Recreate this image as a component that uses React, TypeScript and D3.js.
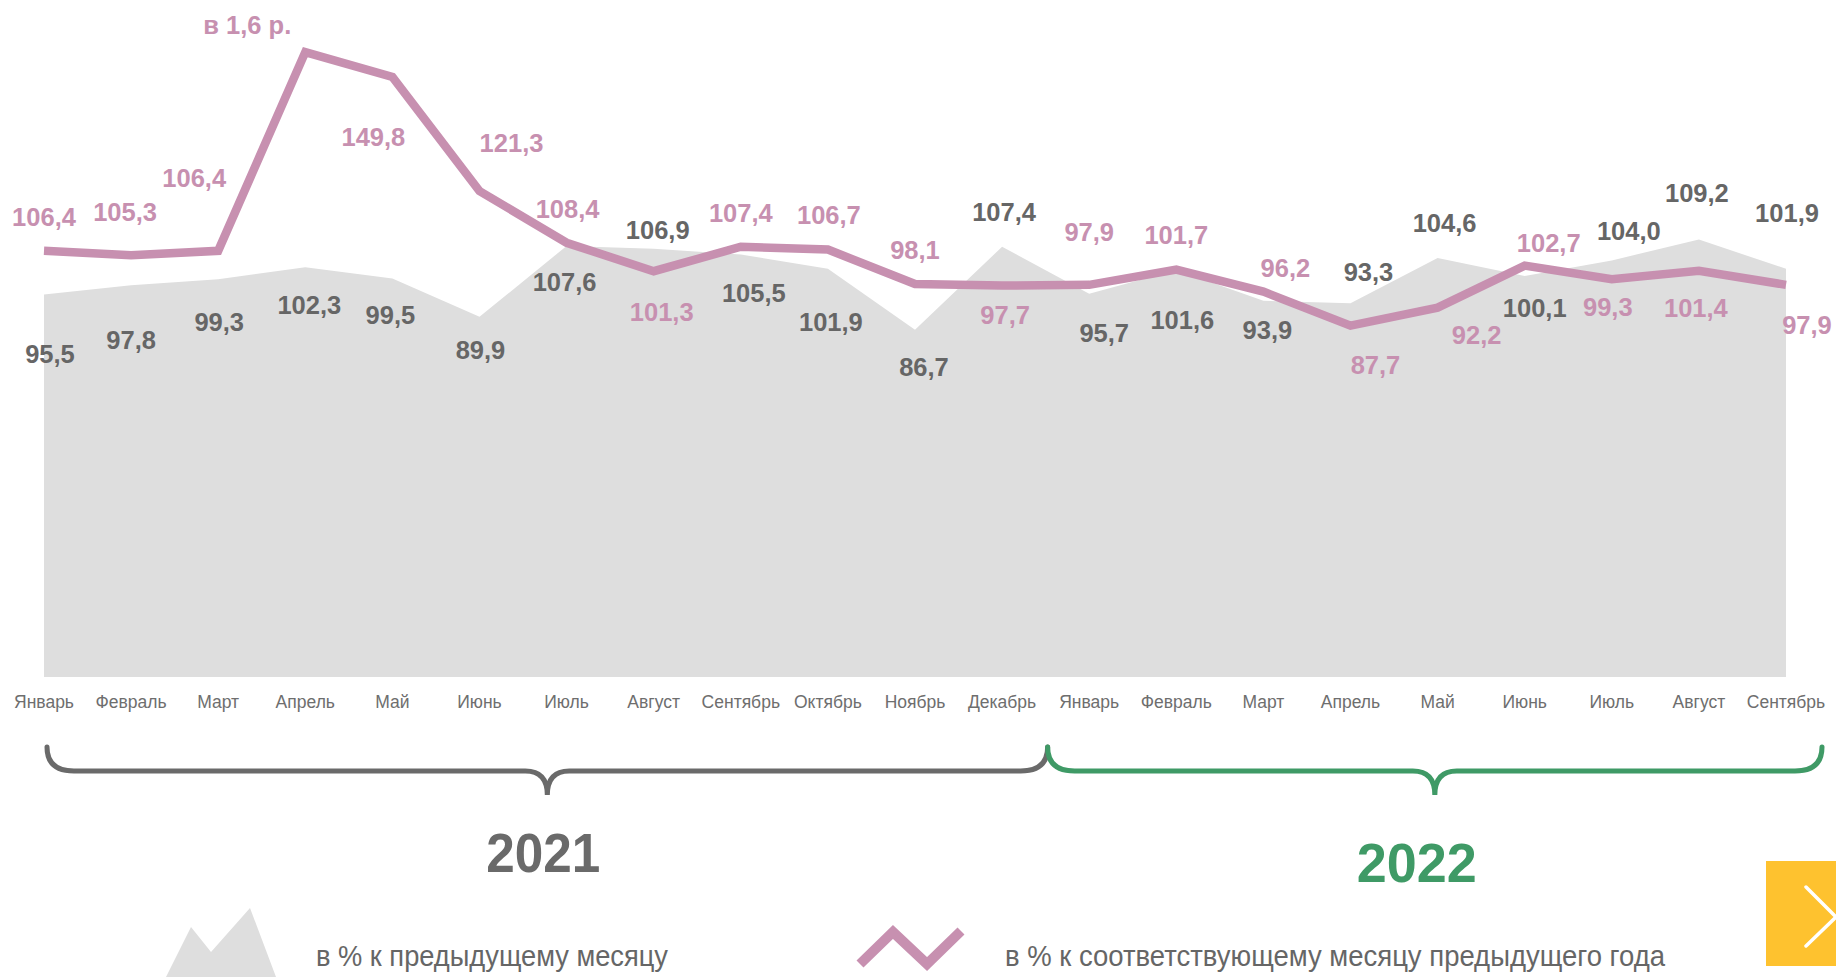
import React from 'react';
import * as d3 from 'd3';

const months = ['Январь','Февраль','Март','Апрель','Май','Июнь','Июль','Август','Сентябрь','Октябрь','Ноябрь','Декабрь','Январь','Февраль','Март','Апрель','Май','Июнь','Июль','Август','Сентябрь'];
const momValues = [95.5, 97.8, 99.3, 102.3, 99.5, 89.9, 107.6, 106.9, 105.5, 101.9, 86.7, 107.4, 95.7, 101.6, 93.9, 93.3, 104.6, 100.1, 104.0, 109.2, 101.9];
const yoyValues = [106.4, 105.3, 106.4, 156, 149.8, 121.3, 108.4, 101.3, 107.4, 106.7, 98.1, 97.7, 97.9, 101.7, 96.2, 87.7, 92.2, 102.7, 99.3, 101.4, 97.9];
const yoySpecialLabels: Record<number, string> = { 3: 'в 1,6 р.' };
const years = ['2021', '2022'];
const yearSpans = [[0, 11], [12, 20]];
const legendLabels = ['в % к предыдущему месяцу', 'в % к соответствующему месяцу предыдущего года'];

// label offsets (layout), px relative to the data point
const yoyLabelOffsets = [[0,-34],[-6,-43],[-24,-73],[-58,-27],[-19,60],[32,-48],[1,-34],[8,41],[0,-34],[1,-35],[0,-34],[3,29],[0,-53],[0,-35],[22,-24],[25,39],[39,27],[24,-23],[-4,28],[-3,37],[21,40]];
const momLabelOffsets = [[6,60],[0,55],[1,43],[4,38],[-2,37],[1,33],[-2,36],[4,-19],[13,39],[3,53],[9,37],[2,-35],[15,39],[6,50],[4,29],[18,-31],[7,-35],[10,32],[17,-29],[-2,-47],[1,-56]];

const W = 1836, H = 977;
const PINK = '#c790b0';
const GREY_TXT = '#666666';
const AREA = '#dedede';
const GREEN = '#3f9a66';
const FONT = '"Liberation Sans", Arial, sans-serif';

const fmt = (v: number) => d3.format('.1f')(v).replace('.', ',');

function bracePath(x1: number, x2: number, yTop: number, yMid: number, yTip: number) {
  const r = 27;
  const r2 = 22;
  const tx = (x1 + x2) / 2;
  return `M${x1},${yTop} Q${x1},${yMid} ${x1 + r},${yMid} L${tx - r2},${yMid} Q${tx},${yMid} ${tx},${yTip} Q${tx},${yMid} ${tx + r2},${yMid} L${x2 - r},${yMid} Q${x2},${yMid} ${x2},${yTop}`;
}

export default function App() {
  const idx = months.map((_, i) => i);
  const x = d3.scaleLinear().domain([0, months.length - 1]).range([44, 1786]);
  const y = d3.scaleLinear().domain([0, 169]).range([677, 0]);

  const area = d3.area<number>().x((_, i) => x(i)).y0(y(0)).y1(d => y(d))(momValues) || '';
  const line = d3.line<number>().x((_, i) => x(i)).y(d => y(d))(yoyValues) || '';

  const braceTop = 747, braceMid = 771, braceTip = 795;
  const braceEnds = [
    [x(yearSpans[0][0]) + 3, (x(yearSpans[0][1]) + x(yearSpans[1][0])) / 2 + 2],
    [(x(yearSpans[0][1]) + x(yearSpans[1][0])) / 2 + 2, x(yearSpans[1][1]) + 36],
  ];
  const braceColors = ['#6a6a6a', GREEN];
  const yearPos = [[-4, 872], [-18, 882]];
  const yearWidths = [114, 120];

  return (
    <svg width={W} height={H} style={{ position: 'absolute', left: 0, top: 0, background: '#fff' }} fontFamily={FONT}>
      <path d={area} fill={AREA} />
      <path d={line} fill="none" stroke={PINK} strokeWidth={8.5} strokeLinejoin="miter" />

      {momValues.map((v, i) => (
        <text key={'m' + i} x={x(i) + momLabelOffsets[i][0]} y={y(v) + momLabelOffsets[i][1]}
          fontSize={25.5} fontWeight="bold" fill={GREY_TXT} textAnchor="middle" dominantBaseline="central">{fmt(v)}</text>
      ))}
      {yoyValues.map((v, i) => (
        <text key={'y' + i} x={x(i) + yoyLabelOffsets[i][0]} y={y(v) + yoyLabelOffsets[i][1]}
          fontSize={25.5} fontWeight="bold" fill={PINK} textAnchor="middle" dominantBaseline="central">{yoySpecialLabels[i] ?? fmt(v)}</text>
      ))}

      {idx.map(i => (
        <text key={'x' + i} x={x(i)} y={702} fontSize={17.5} fill="#6e6e6e" textAnchor="middle" dominantBaseline="central">{months[i]}</text>
      ))}

      {braceEnds.map((b, i) => (
        <path key={'b' + i} d={bracePath(b[0], b[1], braceTop, braceMid, braceTip)} fill="none" stroke={braceColors[i]} strokeWidth={5} strokeLinecap="round" />
      ))}
      {years.map((yr, i) => (
        <text key={'yr' + i} x={(braceEnds[i][0] + braceEnds[i][1]) / 2 + yearPos[i][0]} y={yearPos[i][1]} fontSize={55} fontWeight="bold"
          fill={braceColors[i]} textAnchor="middle" textLength={yearWidths[i]} lengthAdjust="spacingAndGlyphs">{yr}</text>
      ))}

      {/* legend */}
      <polygon points="166,977 191,927 211,952 250,908 276,977" fill={AREA} />
      <text x={316} y={966} fontSize={30} fill={GREY_TXT} textLength={352} lengthAdjust="spacingAndGlyphs">{legendLabels[0]}</text>
      <polyline points="860,964 893,932 927,964 961,931" fill="none" stroke={PINK} strokeWidth={10} />
      <text x={1005} y={966} fontSize={30} fill={GREY_TXT} textLength={660} lengthAdjust="spacingAndGlyphs">{legendLabels[1]}</text>

      {/* nav button */}
      <rect x={1766} y={861} width={70} height={105} fill="#fec22f" />
      <polyline points="1806,887 1836,917 1806,946" fill="none" stroke="#fff" strokeWidth={3.5} strokeLinecap="round" />
    </svg>
  );
}
